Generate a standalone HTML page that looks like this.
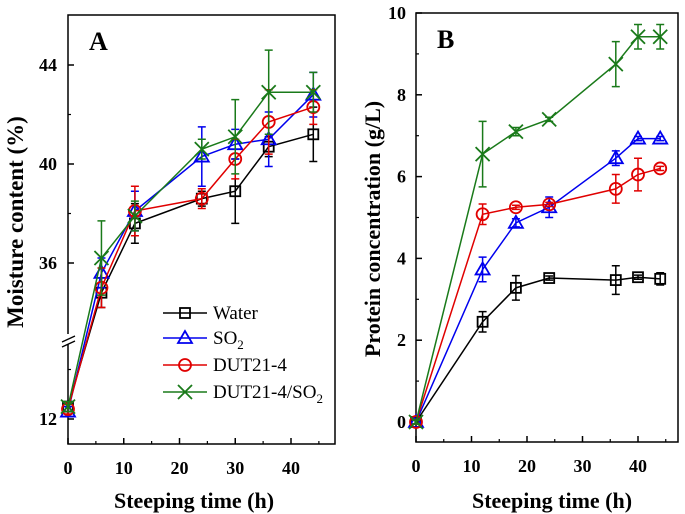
<!DOCTYPE html>
<html><head><meta charset="utf-8"><style>
body{margin:0;background:#fff}
svg{display:block;font-family:"Liberation Serif",serif}
</style></head><body>
<svg id="chart" width="685" height="514" viewBox="0 0 685 514" xmlns="http://www.w3.org/2000/svg"></svg>
<script>
const timesA=[0,6,12,24,30,36,44];
const waterA=[12.5,34.8,37.6,38.6,38.9,40.7,41.2];
const waterAErr=[0.2,0.6,0.8,0.3,1.3,0.4,1.1];
const so2A=[12.3,35.6,38.1,40.3,40.8,41.0,42.8];
const so2AErr=[0.2,0.6,0.8,1.2,0.6,1.1,0.9];
const dutA=[12.4,35.0,38.1,38.6,40.2,41.7,42.3];
const dutAErr=[0.2,0.8,1.0,0.4,0.8,1.3,0.7];
const comboA=[12.5,36.2,37.9,40.6,41.1,42.9,42.9];
const comboAErr=[0.2,1.5,0.6,0.4,1.5,1.7,0.8];
const ticksAx=[0,10,20,30,40];
const ticksAyUpper=[36,40,44];
const ticksAyLower=[12];

const timesB=[0,12,18,24,36,40,44];
const waterB=[0,2.45,3.28,3.52,3.47,3.54,3.5];
const waterBErr=[0.05,0.25,0.3,0.05,0.35,0.05,0.15];
const so2B=[0,3.73,4.87,5.25,6.45,6.93,6.93];
const so2BErr=[0.05,0.3,0.1,0.25,0.18,0.05,0.05];
const dutB=[0,5.08,5.25,5.32,5.7,6.05,6.2];
const dutBErr=[0.05,0.25,0.05,0.05,0.35,0.4,0.05];
const comboB=[0,6.55,7.1,7.4,8.75,9.42,9.42];
const comboBErr=[0.05,0.8,0.1,0.05,0.55,0.3,0.3];
const ticksBx=[0,10,20,30,40];
const ticksBy=[0,2,4,6,8,10];
const seriesNames=["Water","SO2","DUT21-4","DUT21-4/SO2"];

const NS="http://www.w3.org/2000/svg";
const svg=document.getElementById('chart');
function el(tag,attrs,parent,text){const e=document.createElementNS(NS,tag);for(const k in attrs)e.setAttribute(k,attrs[k]);if(text!==undefined)e.textContent=text;(parent||svg).appendChild(e);return e;}

const xA=t=>68+t*(291-68)/40;
const yA=v=> v>=20 ? 164-(v-40)*24.75 : 419-(v-12)*24.75;
const xB=t=>416+t*(638-416)/40;
const yB=v=>422-v*40.9;

const colors=["#000","#0000ee","#e00000","#1a7a1a"];

function marker(g,type,x,y,c){
  if(type===0){const m=el('rect',{x:x-5,y:y-5,width:10,height:10,fill:'none',stroke:c,'stroke-width':1.8},g);}
  else if(type===1){const m=el('polygon',{points:`${x},${y-7} ${x-7},${y+5} ${x+7},${y+5}`,fill:'none',stroke:c,'stroke-width':1.8},g);}
  else if(type===2){const m=el('circle',{cx:x,cy:y,r:6,fill:'none',stroke:c,'stroke-width':1.8},g);}
  else {const m=el('path',{d:`M${x-7},${y-7}L${x+7},${y+7}M${x-7},${y+7}L${x+7},${y-7}`,stroke:c,'stroke-width':1.8},g);}
}

function drawSeries(panel,times,vals,errs,xs,ys,idx){
  const c=colors[idx];
  const g=el('g',{});
  
  
  const pts=times.map((t,i)=>xs(t)+','+ys(vals[i])).join(' ');
  const l=el('polyline',{points:pts,fill:'none',stroke:c,'stroke-width':1.5},g);
  
  
  times.forEach((t,i)=>{
    const x=xs(t),y1=ys(vals[i]+errs[i]),y2=ys(vals[i]-errs[i]);
    const e=el('path',{d:`M${x},${y1}V${y2}M${x-4},${y1}H${x+4}M${x-4},${y2}H${x+4}`,stroke:c,'stroke-width':1.5,fill:'none'},g);
    
    
    marker(g,idx,x,ys(vals[i]),c);
  });
}

// ---- Panel A ----
const fa=el('rect',{x:68,y:15,width:267,height:429,fill:'none',stroke:'#000','stroke-width':1.5});

ticksAx.forEach(t=>{
  el('line',{x1:xA(t),y1:444,x2:xA(t),y2:438,stroke:'#000','stroke-width':1.5});
  const tx=el('text',{x:xA(t),y:474,'text-anchor':'middle','font-size':18,'font-weight':'bold'},svg,t);
  
});
[5,15,25,35,45].forEach(t=>el('line',{x1:xA(t),y1:444,x2:xA(t),y2:441,stroke:'#000','stroke-width':1.2}));
ticksAyUpper.concat(ticksAyLower).forEach(v=>{
  el('line',{x1:68,y1:yA(v),x2:74,y2:yA(v),stroke:'#000','stroke-width':1.5});
  const tx=el('text',{x:57,y:yA(v)+6,'text-anchor':'end','font-size':18,'font-weight':'bold'},svg,v);
  
});
[38,42,14].forEach(v=>el('line',{x1:68,y1:yA(v),x2:71,y2:yA(v),stroke:'#000','stroke-width':1.2}));
el('rect',{x:62,y:334,width:14,height:10,fill:'#fff'});
const br=el('path',{d:'M62,342L75,336M62,347L75,341',stroke:'#000','stroke-width':1.3,fill:'none'});

let t1=el('text',{x:194,y:508,'text-anchor':'middle','font-size':22,'font-weight':'bold'},svg,'Steeping time (h)');

let t2=el('text',{x:0,y:0,'text-anchor':'middle','font-size':23,'font-weight':'bold',transform:'translate(23,222) rotate(-90)'},svg,'Moisture content (%)');

let la=el('text',{x:89,y:50,'font-size':26,'font-weight':'bold'},svg,'A');


drawSeries('panel-a',timesA,waterA,waterAErr,xA,yA,0);
drawSeries('panel-a',timesA,so2A,so2AErr,xA,yA,1);
drawSeries('panel-a',timesA,dutA,dutAErr,xA,yA,2);
drawSeries('panel-a',timesA,comboA,comboAErr,xA,yA,3);

const leg=el('g',{});

const legY=[313,338,365,392];
const legText=[['Water',''],['SO','2'],['DUT21-4',''],['DUT21-4/SO','2']];
legY.forEach((y,i)=>{
  const e=el('g',{},leg);
  
  el('line',{x1:163,y1:y,x2:207,y2:y,stroke:colors[i],'stroke-width':1.5},e);
  marker(e,i,185,y,colors[i]);
  const t=el('text',{x:213,y:y+6,'font-size':19},e,legText[i][0]);
  if(legText[i][1])el('tspan',{dy:5,'font-size':13},t,legText[i][1]);
});

// ---- Panel B ----
const fb=el('rect',{x:416,y:13,width:262,height:429,fill:'none',stroke:'#000','stroke-width':1.5});

ticksBx.forEach(t=>{
  el('line',{x1:xB(t),y1:442,x2:xB(t),y2:436,stroke:'#000','stroke-width':1.5});
  const tx=el('text',{x:xB(t),y:472,'text-anchor':'middle','font-size':18,'font-weight':'bold'},svg,t);
  
});
[5,15,25,35,45].forEach(t=>el('line',{x1:xB(t),y1:442,x2:xB(t),y2:439,stroke:'#000','stroke-width':1.2}));
ticksBy.forEach(v=>{
  el('line',{x1:416,y1:yB(v),x2:422,y2:yB(v),stroke:'#000','stroke-width':1.5});
  const tx=el('text',{x:406,y:yB(v)+6,'text-anchor':'end','font-size':18,'font-weight':'bold'},svg,v);
  
});
[1,3,5,7,9].forEach(v=>el('line',{x1:416,y1:yB(v),x2:419,y2:yB(v),stroke:'#000','stroke-width':1.2}));
let t3=el('text',{x:552,y:508,'text-anchor':'middle','font-size':22,'font-weight':'bold'},svg,'Steeping time (h)');

let t4=el('text',{x:0,y:0,'text-anchor':'middle','font-size':22,'font-weight':'bold',transform:'translate(380,229) rotate(-90)'},svg,'Protein concentration (g/L)');

let lb=el('text',{x:437,y:48,'font-size':26,'font-weight':'bold'},svg,'B');


drawSeries('panel-b',timesB,waterB,waterBErr,xB,yB,0);
drawSeries('panel-b',timesB,so2B,so2BErr,xB,yB,1);
drawSeries('panel-b',timesB,dutB,dutBErr,xB,yB,2);
drawSeries('panel-b',timesB,comboB,comboBErr,xB,yB,3);
</script>
</body></html>
